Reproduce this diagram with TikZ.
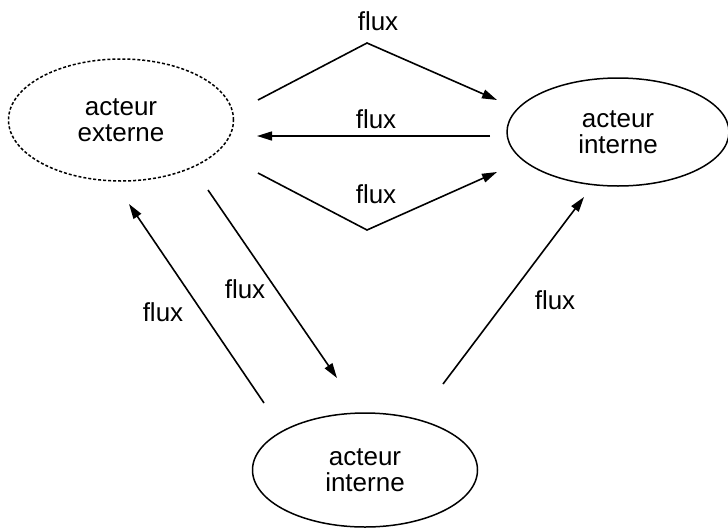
\documentclass[tikz,border=0pt]{standalone}
\usepackage{fontspec}
\setmainfont{Liberation Sans}
\usetikzlibrary{shapes.geometric,arrows.meta}
\begin{document}
\begin{tikzpicture}[x=1pt,y=-1pt,
  actor/.style={ellipse,draw,line width=1.5pt,inner sep=0pt,align=center,
    font=\fontsize{26}{26}\selectfont},
  extactor/.style={actor,dash pattern=on 3pt off 2pt},
  flow/.style={line width=1.6pt,-{Triangle[length=15pt,width=9pt]}},
  lbl/.style={font=\fontsize{26}{26}\selectfont,inner sep=0pt}]
\useasboundingbox (0,0) rectangle (728,528);
\node[extactor,minimum width=225pt,minimum height=122pt] (ext) at (121,120) {acteur\\externe};
\node[actor,minimum width=222pt,minimum height=108pt] (intA) at (618,132) {acteur\\interne};
\node[actor,minimum width=225pt,minimum height=114pt] (intB) at (365,470) {acteur\\interne};
% endpoints
\coordinate (e1) at (258,100);
\coordinate (p1) at (367,43);
\coordinate (a1) at (497,100);
\coordinate (a2) at (490,136);
\coordinate (e2) at (257,136);
\coordinate (e3) at (258,173);
\coordinate (p3) at (367,230);
\coordinate (a3) at (497,172);
\coordinate (b4) at (264,403);
\coordinate (e4) at (129,204);
\coordinate (e5) at (208,190);
\coordinate (b5) at (337,378);
\coordinate (b6) at (443,384);
\coordinate (a6) at (584,197);
\draw[flow] (e1) -- (p1) -- (a1);
\draw[flow] (a2) -- (e2);
\draw[flow] (e3) -- (p3) -- (a3);
\draw[flow] (b4) -- (e4);
\draw[flow] (e5) -- (b5);
\draw[flow] (b6) -- (a6);
\node[lbl] (l1) at (378,21) {flux};
\node[lbl] (l2) at (376,119) {flux};
\node[lbl] (l3) at (376,194) {flux};
\node[lbl] (l4) at (163,312) {flux};
\node[lbl] (l5) at (245,289) {flux};
\node[lbl] (l6) at (555,300) {flux};
\end{tikzpicture}
\end{document}
